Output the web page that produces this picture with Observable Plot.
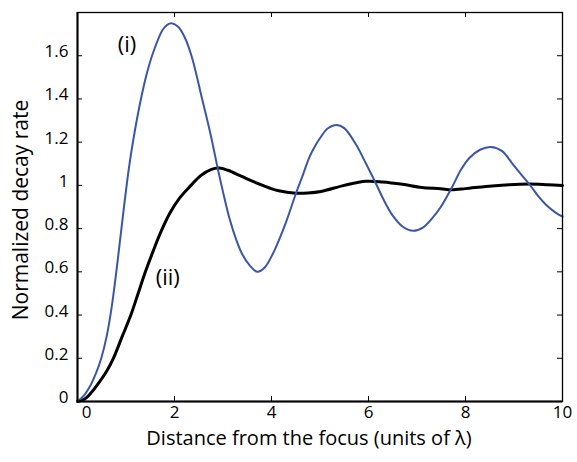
<!DOCTYPE html>
<html><head><meta charset="utf-8">
<script src="https://cdn.jsdelivr.net/npm/d3@7"></script>
<script src="https://cdn.jsdelivr.net/npm/@observablehq/plot@0.6"></script>
<style>body{margin:0;background:#fff}</style>
</head><body><div id="chart"></div>
<script>
// Curve (i): blue, oscillating
const curveIX = [0, 0.14, 0.28, 0.38, 0.49, 0.6, 0.7, 0.8, 0.9, 0.98, 1.06, 1.15, 1.29, 1.42, 1.56, 1.75, 1.85, 1.94, 2.08, 2.2, 2.35, 2.58, 2.75, 2.89, 3.0, 3.13, 3.27, 3.4, 3.55, 3.71, 3.86, 4.02, 4.16, 4.3, 4.5, 4.65, 4.78, 4.92, 5.02, 5.15, 5.34, 5.5, 5.74, 5.95, 6.15, 6.32, 6.5, 6.7, 6.92, 7.12, 7.32, 7.49, 7.73, 7.9, 8.08, 8.3, 8.52, 8.75, 8.97, 9.15, 9.35, 9.5, 9.66, 9.85, 10];
const curveIY = [0, 0.03, 0.08, 0.13, 0.2, 0.3, 0.43, 0.6, 0.79, 0.94, 1.08, 1.21, 1.38, 1.51, 1.615, 1.718, 1.743, 1.75, 1.733, 1.69, 1.6, 1.39, 1.23, 1.08, 0.97, 0.85, 0.75, 0.68, 0.63, 0.6, 0.62, 0.68, 0.75, 0.83, 0.96, 1.05, 1.13, 1.19, 1.225, 1.262, 1.28, 1.265, 1.19, 1.1, 1.01, 0.93, 0.86, 0.81, 0.79, 0.805, 0.85, 0.9, 0.995, 1.07, 1.127, 1.165, 1.178, 1.16, 1.1, 1.05, 0.995, 0.95, 0.91, 0.875, 0.855];
// Curve (ii): black, damped
const curveIIX = [0, 0.15, 0.28, 0.45, 0.6, 0.74, 0.92, 1.1, 1.25, 1.4, 1.55, 1.71, 1.9, 2.1, 2.34, 2.54, 2.75, 2.92, 3.1, 3.4, 3.82, 4.15, 4.5, 4.75, 5.02, 5.5, 5.95, 6.29, 6.7, 7.1, 7.49, 7.7, 8.0, 8.42, 8.9, 9.31, 9.7, 10];
const curveIIY = [0, 0.012, 0.04, 0.09, 0.14, 0.2, 0.3, 0.4, 0.5, 0.6, 0.69, 0.78, 0.87, 0.94, 1.0, 1.045, 1.073, 1.08, 1.07, 1.04, 1.0, 0.975, 0.964, 0.965, 0.972, 1.0, 1.019, 1.016, 1.005, 0.99, 0.985, 0.98, 0.985, 0.995, 1.003, 1.006, 1.003, 1.0];
const xTicks = [0, 2, 4, 6, 8, 10];
const yTicks = [0, 0.2, 0.4, 0.6, 0.8, 1, 1.2, 1.4, 1.6];
const curveNames = ["(i)", "(ii)"];
const curveLabelX = [1.02, 1.86];
const curveLabelY = [1.65, 0.57];
const xTitle = "Distance from the focus (units of λ)";
const yTitle = "Normalized decay rate";

const dataI = curveIX.map((x, i) => ({x, y: curveIY[i]}));
const dataII = curveIIX.map((x, i) => ({x, y: curveIIY[i]}));
const labels = curveNames.map((t, i) => ({t, x: curveLabelX[i], y: curveLabelY[i]}));
const font = "'Open Sans', sans-serif";
const W = 577, H = 462, mL = 77, mR = 15, mT = 12, mB = 61;
const innerW = W - mL - mR, innerH = H - mT - mB, tickLen = 5;

const chart = Plot.plot({
  width: W, height: H,
  marginLeft: mL, marginRight: mR, marginTop: mT, marginBottom: mB,
  x: {domain: [0, 10]},
  y: {domain: [0, 1.8]},
  style: {fontFamily: font, fontSize: "17px", background: "white", color: "black"},
  marks: [
    Plot.line(dataII, {x: "x", y: "y", stroke: "black", strokeWidth: 3, curve: "catmull-rom"}),
    Plot.line(dataI, {x: "x", y: "y", stroke: "#3a56a8", strokeWidth: 2, curve: "catmull-rom"}),
    Plot.frame({stroke: "black", strokeWidth: 1.3}),
    Plot.ruleX([0], {stroke: "black", strokeWidth: 2}),
    Plot.ruleY([0], {stroke: "black", strokeWidth: 2}),
    Plot.tickX(xTicks.slice(1, 5), {x: d => d, insetTop: innerH - tickLen, stroke: "black"}),
    Plot.tickX(xTicks.slice(1, 5), {x: d => d, insetBottom: innerH - tickLen, stroke: "black"}),
    Plot.tickY(yTicks.slice(1), {y: d => d, insetRight: innerW - tickLen, stroke: "black"}),
    Plot.tickY(yTicks.slice(1), {y: d => d, insetLeft: innerW - tickLen, stroke: "black"}),
    Plot.axisX(xTicks.slice(1), {anchor: "bottom", tickSize: 0, tickPadding: 4, fontSize: 17, label: null}),
    Plot.axisX(xTicks.slice(0, 1), {anchor: "bottom", tickSize: 0, tickPadding: 4, dx: 9, fontSize: 17, label: null}),
    Plot.axisY(yTicks, {anchor: "left", tickSize: 0, tickPadding: 9, dy: -4, fontSize: 17, label: null, tickFormat: d => String(d)}),
    Plot.text(labels, {x: "x", y: "y", text: "t", fontSize: 22}),
    Plot.text([xTitle], {frameAnchor: "bottom", textAnchor: "middle", dx: -11, dy: 43, fontSize: 20}),
    Plot.text([yTitle], {frameAnchor: "left", textAnchor: "middle", rotate: -90, dx: -56, dy: 3, fontSize: 21})
  ]
});
document.getElementById("chart").appendChild(chart);
</script>
</body></html>
